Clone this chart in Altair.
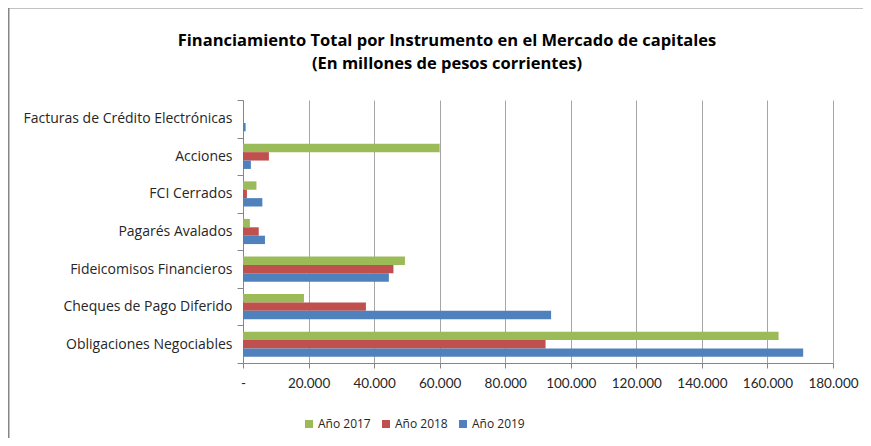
import altair as alt
import pandas as pd

categories = [
    "Facturas de Crédito Electrónicas",
    "Acciones",
    "FCI Cerrados",
    "Pagarés Avalados",
    "Fideicomisos Financieros",
    "Cheques de Pago Diferido",
    "Obligaciones Negociables",
]
years = ["Año 2017", "Año 2018", "Año 2019"]
v2017 = [0, 60000, 4100, 2100, 49400, 18600, 163400]
v2018 = [0, 7900, 1200, 4800, 45900, 37500, 92300]
v2019 = [800, 2400, 5900, 6700, 44500, 94000, 170900]
x_ticks = [0, 20000, 40000, 60000, 80000, 100000, 120000, 140000, 160000, 180000]
colors = ["#9BBB59", "#C0504D", "#4F81BD"]

rows = []
for series, vals in zip(years, [v2017, v2018, v2019]):
    for c, v in zip(categories, vals):
        rows.append({"cat": c, "year": series, "value": v})
df = pd.DataFrame(rows)

FONT = "Open Sans"
NUMFONT = "Lato"

bars = alt.Chart(df).mark_bar().encode(
    y=alt.Y("cat:N", sort=categories, title=None,
            scale=alt.Scale(paddingInner=0, paddingOuter=0),
            axis=alt.Axis(tickBand="extent", tickSize=6, labelPadding=5,
                          domainColor="#868686", tickColor="#868686",
                          labelFontSize=14, labelColor="#262626", labelFont=FONT,
                          labelLimit=400)),
    yOffset=alt.YOffset("year:N", sort=years,
                        scale=alt.Scale(paddingInner=0, paddingOuter=0.74)),
    x=alt.X("value:Q", title=None,
            scale=alt.Scale(domain=[0, 180000], nice=False),
            axis=alt.Axis(values=x_ticks, grid=True, gridColor="#A6A6A6",
                          domainColor="#868686", tickColor="#868686", tickSize=5,
                          labelPadding=8, labelFontSize=13.5, labelColor="#262626",
                          labelFont=NUMFONT, labelOverlap=False, labelFlush=False,
                          labelExpr="datum.value == 0 ? '-' : replace(format(datum.value, ','), ',', '.')")),
    color=alt.Color("year:N", sort=years,
                    scale=alt.Scale(domain=years, range=colors),
                    legend=alt.Legend(title=None, orient="none", direction="horizontal",
                                      legendX=60, legendY=318, symbolType="square",
                                      symbolSize=64, symbolStrokeWidth=0,
                                      labelFontSize=12, labelFont=FONT,
                                      labelColor="#262626", labelOffset=3,
                                      columnPadding=9)),
)

frame_data = alt.Data(values=[{"k": 1}])
frame_left = alt.Chart(frame_data).mark_rule(color="#868686", strokeWidth=2).encode(
    x=alt.value(-234.5), y=alt.value(-92.5), y2=alt.value(360)
)
frame_top = alt.Chart(frame_data).mark_rule(color="#868686", strokeWidth=2).encode(
    x=alt.value(-235.5), x2=alt.value(640), y=alt.value(-92.5)
)

chart = alt.layer(bars, frame_left, frame_top).properties(
    width=590,
    height=263,
    autosize=alt.AutoSizeParams(type="none"),
    padding={"left": 235, "top": 92, "right": 30, "bottom": 75},
    title=alt.TitleParams(
        text=["Financiamiento Total por Instrumento en el Mercado de capitales",
              "(En millones de pesos corrientes)"],
        font=FONT, fontSize=16.5, fontWeight="bold", color="#000000",
        anchor="middle", frame="group", dx=-91, offset=-66, lineHeight=23,
    ),
).configure_view(stroke=None)

chart.save("out.html", embed_options={"renderer": "svg", "actions": False})
